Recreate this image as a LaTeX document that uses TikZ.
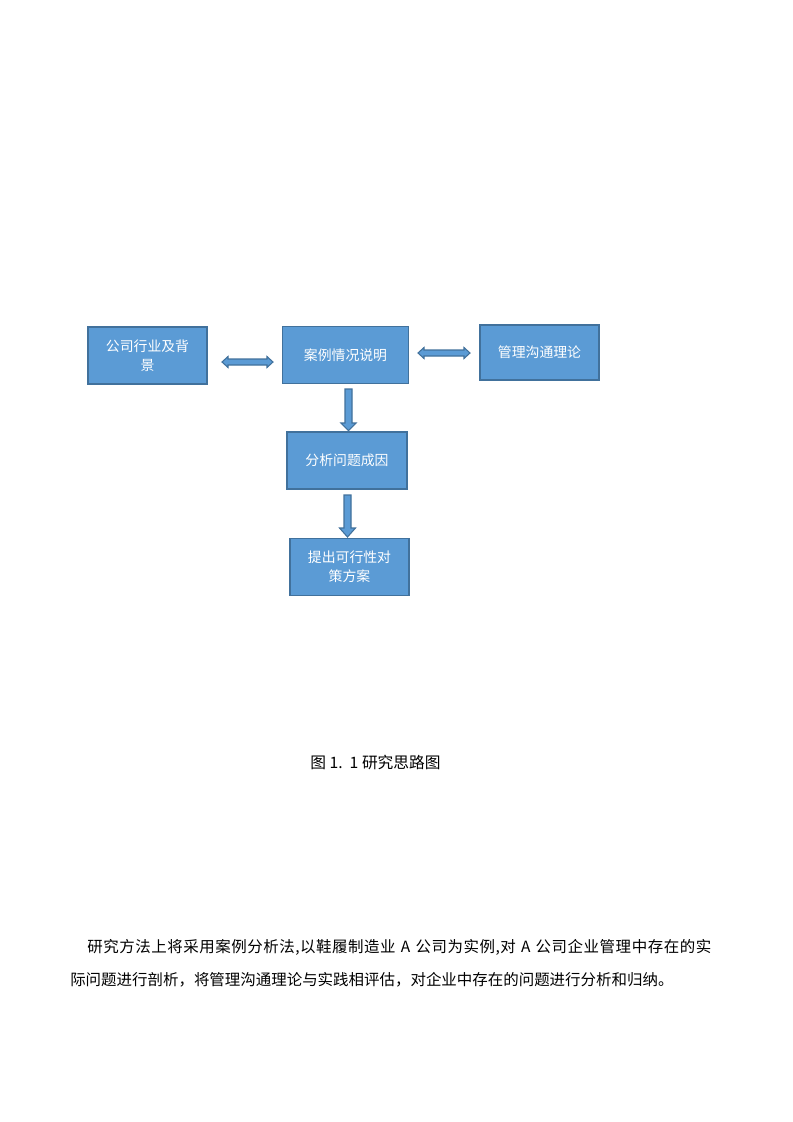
\documentclass[tikz,border=0pt]{standalone}
\usepackage{fontspec}
\setmainfont{Liberation Serif}
\newfontfamily\cjk{Noto Sans CJK SC}
\newfontfamily\cjkwide[LetterSpace=3.5]{Noto Sans CJK SC}
\definecolor{boxfill}{HTML}{5B9BD5}
\definecolor{boxline}{HTML}{41719C}
\begin{document}
\begin{tikzpicture}[x=0.75pt,y=-0.75pt,
  box/.style 2 args={draw=boxline, fill=boxfill, line width=0.8pt, text=white,
    font=\cjk\fontsize{10.4}{14.5}\selectfont, align=center, inner sep=0pt,
    minimum width=#1*0.75pt, minimum height=#2*0.75pt},
  blockarrow/.style={draw=boxline, fill=boxfill, line width=0.8pt, line join=miter},
  body/.style={font=\cjk\fontsize{11.6}{14}\selectfont, inner sep=0pt, anchor=west}]
\useasboundingbox[fill=white] (0,0) rectangle (793,1122);
% boxes
\node[box={119}{57}] (bg) at (147.5,355.5) {公司行业及背\\景};
\node[box={126}{57}] (case) at (345.5,355) {案例情况说明};
\node[box={119}{55}] (theory) at (539.5,352.5) {管理沟通理论};
\node[box={120}{57}] (cause) at (347,460.5) {分析问题成因};
\node[box={119}{57}] (plan) at (349.5,567) {提出可行性对\\策方案};
% double arrows
\draw[blockarrow] (222,362) -- (228,356.5) -- (228,359) -- (267,359) -- (267,356.5) -- (273,362)
  -- (267,367.5) -- (267,365) -- (228,365) -- (228,367.5) -- cycle;
\draw[blockarrow] (418,353) -- (424,347.5) -- (424,350) -- (464,350) -- (464,347.5) -- (470,353)
  -- (464,358.5) -- (464,356) -- (424,356) -- (424,358.5) -- cycle;
% down arrows
\draw[blockarrow] (345,389) -- (352,389) -- (352,423) -- (356,423) -- (348.5,430.5) -- (341,423) -- (345,423) -- cycle;
\draw[blockarrow] (344,495) -- (351,495) -- (351,528) -- (355.5,528) -- (347.5,537) -- (339.5,528) -- (344,528) -- cycle;
% caption
\node[font=\cjk\fontsize{11.8}{14}\selectfont, inner sep=0pt] (cap) at (375.5,762) {图 1.\ \ 1 研究思路图};
% body text
\node[body] (l1) at (87,947) {\cjkwide\fontsize{11.6}{14}\selectfont\makebox[468pt][s]{研究方法上将采用案例分析法,以鞋履制造业 A 公司为实例,对 A 公司企业管理中存在的实}};
\node[body] (l2) at (70,980) {际问题进行剖析，将管理沟通理论与实践相评估，对企业中存在的问题进行分析和归纳。};
\end{tikzpicture}
\end{document}
